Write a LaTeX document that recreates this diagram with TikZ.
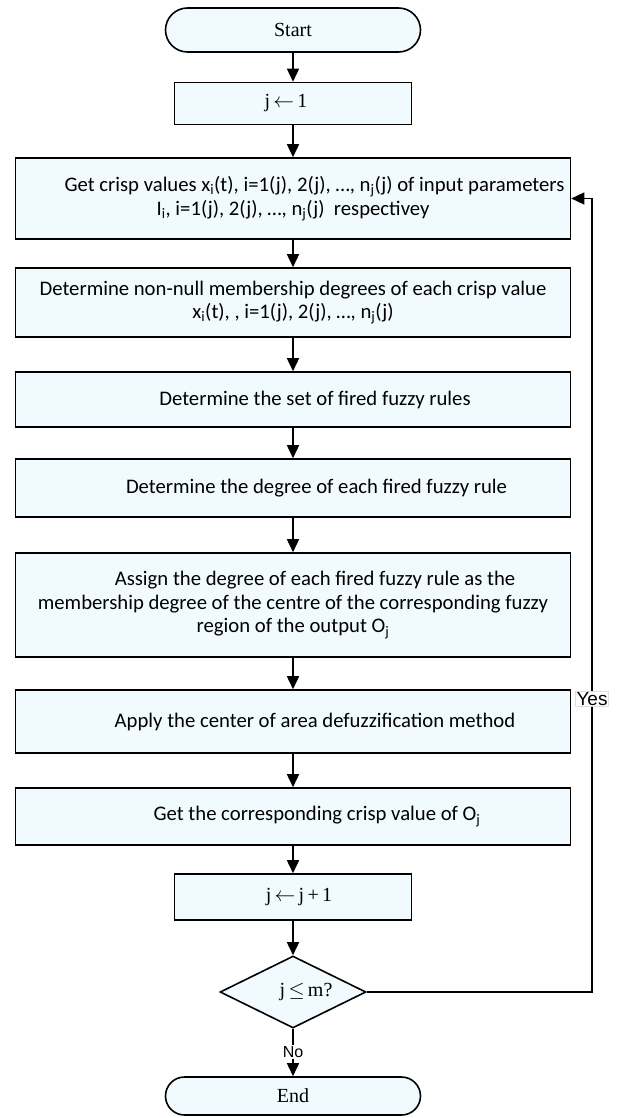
\documentclass[tikz,border=0pt]{standalone}
\usepackage{fontspec}
\setmainfont{Carlito}
\newfontfamily\tms{Liberation Serif}
\newfontfamily\arl{Liberation Sans}
\usetikzlibrary{shapes.geometric,shapes.misc,arrows.meta}
\definecolor{boxfill}{RGB}{241,250,254}
\begin{document}
\begin{tikzpicture}[x=1pt,y=-1pt,
  box/.style={draw=black, line width=1.6pt, fill=boxfill, inner sep=0pt,
    minimum width=555pt, align=center, font=\fontsize{20.7}{23.5}\selectfont},
  smallbox/.style={draw=black, line width=1.6pt, fill=boxfill, inner sep=0pt,
    minimum width=237pt, minimum height=42pt, font=\tms\fontsize{20}{24}\selectfont},
  term/.style={draw=black, line width=1.6pt, fill=boxfill, inner sep=0pt,
    rounded rectangle, minimum width=255pt, font=\tms\fontsize{20}{24}\selectfont},
  decision/.style={draw=black, line width=1.6pt, fill=boxfill, inner sep=0pt,
    diamond, aspect=2, minimum width=146pt, minimum height=72pt, font=\tms\fontsize{20}{24}\selectfont},
  arr/.style={line width=1.6pt, -{Triangle[width=12pt,length=13pt]}},
  lab/.style={fill=white, inner sep=1pt, font=\arl\fontsize{16}{18}\selectfont}
]
\useasboundingbox (0,0) rectangle (619,1118);

\node[term, minimum height=44pt] (start) at (293,30) {Start};
\node[smallbox] (j1) at (293,103.5) {\hspace*{-14pt}j\,$\leftarrow$\,1};
\node[box, minimum height=81pt] (b1) at (293,198.5)
  {\hspace*{43pt}Get crisp values x\textsubscript{i}(t), i=1(j), 2(j), …, n\textsubscript{j}(j) of input parameters\\
   I\textsubscript{i}, i=1(j), 2(j), …, n\textsubscript{j}(j)~~respectivey};
\node[box, minimum height=69pt] (b2) at (293,302.5)
  {Determine non-null membership degrees of each crisp value\\
   x\textsubscript{i}(t), , i=1(j), 2(j), …, n\textsubscript{j}(j)};
\node[box, minimum height=55pt] (b3) at (293,399.5)
  {\hspace*{44pt}Determine the set of fired fuzzy rules};
\node[box, minimum height=58pt] (b4) at (293,488)
  {\hspace*{47pt}Determine the degree of each fired fuzzy rule};
\node[box, minimum height=104pt] (b5) at (293,605)
  {\hspace*{44pt}Assign the degree of each fired fuzzy rule as the\\
   membership degree of the centre of the corresponding fuzzy\\
   region of the output O\textsubscript{j}};
\node[box, minimum height=63pt] (b6) at (293,721.5)
  {\hspace*{44pt}Apply the center of area defuzzification method};
\node[box, minimum height=57pt] (b7) at (293,816.5)
  {\hspace*{48pt}Get the corresponding crisp value of O\textsubscript{j}};
\node[smallbox, minimum height=46pt] (jj) at (293,897) {\hspace*{12pt}j\,$\leftarrow$\,j\,+\,1};
\node[decision] (dec) at (293,992) {\hspace*{26pt}j\,$\leq$\,m?};
\node[term, minimum height=38pt] (end) at (293,1096) {End};

\draw[arr] (start) -- (j1);
\draw[arr] (j1) -- (b1);
\draw[arr] (b1) -- (b2);
\draw[arr] (b2) -- (b3);
\draw[arr] (b3) -- (b4);
\draw[arr] (b4) -- (b5);
\draw[arr] (b5) -- (b6);
\draw[arr] (b6) -- (b7);
\draw[arr] (b7) -- (jj);
\draw[arr] (jj) -- (dec);
\draw[arr] (dec) -- (end);
\node[lab] (no) at (293,1052) {No};

\coordinate (lx) at (592,0);
\draw[arr] (dec.east) -| (lx |- b1.east) -- (b1.east);
\node[lab, draw=gray!25, line width=0.6pt, font=\arl\fontsize{19}{21}\selectfont] (yes) at (592,699) {Yes};
\end{tikzpicture}
\end{document}
